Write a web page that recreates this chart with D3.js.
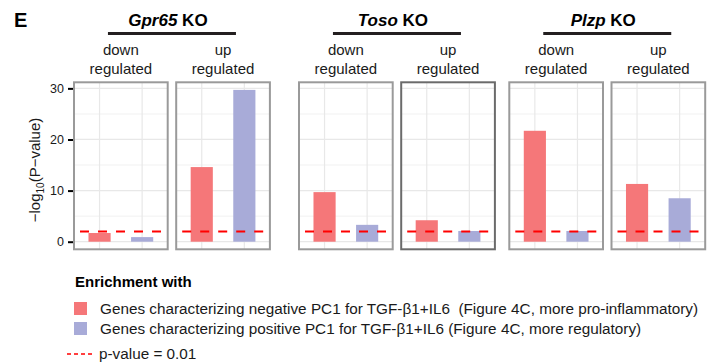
<!DOCTYPE html>
<html>
<head>
<meta charset="utf-8">
<script src="https://cdn.jsdelivr.net/npm/d3@7"></script>
<style>
  body { margin: 0; background: #fff; }
  svg { display: block; font-family: "Liberation Sans", Arial, sans-serif; }
</style>
</head>
<body>
<svg width="707" height="363"></svg>
<script>
// data
var knockouts = ["Gpr65", "Toso", "Plzp"];
var directions = ["down\nregulated", "up\nregulated"];
var negPC1 = [[1.7, 14.6], [9.7, 4.2], [21.7, 11.3]];   // red bars
var posPC1 = [[0.9, 29.7], [3.3, 2.1], [2.1, 8.5]];     // blue bars
var yTicks = [0, 10, 20, 30];
var yMinor = [5, 15, 25];
var cutoff = -Math.log10(0.01);
var legendLabels = [
  "Genes characterizing negative PC1 for TGF-\u03B21+IL6  (Figure 4C, more pro-inflammatory)",
  "Genes characterizing positive PC1 for TGF-\u03B21+IL6 (Figure 4C, more regulatory)"
];

var red = "#F57779", blue = "#A8ABD8";

var svg = d3.select("svg");

// panel layout
var panelW = 93.7, innerGap = 8.5;
var groupLeft = [74, 299, 509.3];
var panelTop = 82.3, panelBottom = 249.3;

var y = d3.scaleLinear().domain([-1.485, 31.185]).range([panelBottom, panelTop]);

svg.append("text").attr("x", 14).attr("y", 27)
  .attr("font-size", 20).attr("font-weight", "bold").text("E");

knockouts.forEach(function(ko, gi) {
  var g0 = groupLeft[gi];
  var gCenter = g0 + panelW + innerGap / 2;

  // group title
  var t = svg.append("text").attr("x", gCenter - 4).attr("y", 26)
    .attr("text-anchor", "middle").attr("font-size", 17).attr("font-weight", "bold");
  t.append("tspan").attr("font-style", "italic").text(ko);
  t.append("tspan").text(" KO");
  svg.append("rect").attr("x", gCenter - 64).attr("y", 32).attr("width", 128).attr("height", 3)
    .attr("fill", "#231F20");

  directions.forEach(function(dir, di) {
    var left = g0 + di * (panelW + innerGap);
    var x = d3.scaleLinear().domain([0.4, 2.6]).range([left, left + panelW]);
    var p = svg.append("g");

    // strip text
    var st = p.append("text").attr("text-anchor", "middle").attr("font-size", 15).attr("fill", "#1a1a1a");
    dir.split("\n").forEach(function(line, li) {
      st.append("tspan").attr("x", x(1.5)).attr("y", 55 + li * 18.5).text(line);
    });

    // grid
    p.selectAll(".minor").data(yMinor).enter().append("line")
      .attr("x1", left).attr("x2", left + panelW)
      .attr("y1", function(d) { return y(d); }).attr("y2", function(d) { return y(d); })
      .attr("stroke", "#f6f6f6").attr("stroke-width", 1.5);
    p.selectAll(".major").data(yTicks).enter().append("line")
      .attr("x1", left).attr("x2", left + panelW)
      .attr("y1", function(d) { return y(d); }).attr("y2", function(d) { return y(d); })
      .attr("stroke", "#e8e8e8").attr("stroke-width", 1.2);
    p.selectAll(".vgrid").data([1, 2]).enter().append("line")
      .attr("x1", function(d) { return x(d); }).attr("x2", function(d) { return x(d); })
      .attr("y1", panelTop).attr("y2", panelBottom)
      .attr("stroke", "#e8e8e8").attr("stroke-width", 1.2);

    // bars
    var vals = [negPC1[gi][di], posPC1[gi][di]];
    var bw = 0.52;
    p.selectAll(".bar").data(vals).enter().append("rect")
      .attr("x", function(d, i) { return x(i + 1 - bw / 2); })
      .attr("width", x(bw) - x(0))
      .attr("y", function(d) { return y(d); })
      .attr("height", function(d) { return y(0) - y(d); })
      .attr("fill", function(d, i) { return i === 0 ? red : blue; });

    // cutoff line
    p.append("line").attr("x1", left + 1).attr("x2", left + panelW - 1)
      .attr("y1", y(cutoff)).attr("y2", y(cutoff))
      .attr("stroke", "#FF0000").attr("stroke-width", 2).attr("stroke-dasharray", "9,9")
      .attr("stroke-dashoffset", -5);

    // border
    p.append("rect").attr("x", left).attr("y", panelTop).attr("width", panelW).attr("height", panelBottom - panelTop)
      .attr("fill", "none").attr("stroke", (gi === 1 && di === 1) ? "#6b6b6b" : "#9a9a9a")
      .attr("stroke-width", 2);
  });
});

// y axis
var yAxis = d3.axisLeft(y).tickValues(yTicks).tickSize(5).tickPadding(4);
var ya = svg.append("g").attr("transform", "translate(73,0)").call(yAxis);
ya.select(".domain").remove();
ya.selectAll(".tick line").attr("stroke", "#000").attr("stroke-width", 2);
ya.selectAll(".tick text").attr("font-size", 12.5).attr("fill", "#1a1a1a")
  .attr("font-family", "Liberation Sans, Arial, sans-serif");

var yt = svg.append("text").attr("transform", "translate(39.5,170) rotate(-90)")
  .attr("text-anchor", "middle").attr("font-size", 15).attr("fill", "#1a1a1a");
yt.append("tspan").text("\u2212log");
yt.append("tspan").attr("font-size", 10).attr("dy", 4).text("10");
yt.append("tspan").attr("dy", -4).text("(P\u2212value)");

// legend
var lg = svg.append("g");
lg.append("text").attr("x", 75).attr("y", 287).attr("font-size", 15).attr("font-weight", "bold")
  .text("Enrichment with");
lg.selectAll(".key").data(legendLabels).enter().append("rect")
  .attr("x", 74).attr("y", function(d, i) { return 302 + i * 20; })
  .attr("width", 13).attr("height", 13)
  .attr("fill", function(d, i) { return i === 0 ? red : blue; });
lg.selectAll(".lab").data(legendLabels).enter().append("text")
  .attr("x", 100).attr("y", function(d, i) { return 313.5 + i * 20; })
  .attr("font-size", 15.3).attr("fill", "#1a1a1a").style("white-space", "pre")
  .text(function(d) { return d; });
lg.append("line").attr("x1", 67).attr("x2", 95).attr("y1", 354).attr("y2", 354)
  .attr("stroke", "#FF0000").attr("stroke-width", 1.5).attr("stroke-dasharray", "4,3");
lg.append("text").attr("x", 99).attr("y", 359).attr("font-size", 15.3).attr("fill", "#1a1a1a")
  .text("p-value = 0.01");
</script>
</body>
</html>
